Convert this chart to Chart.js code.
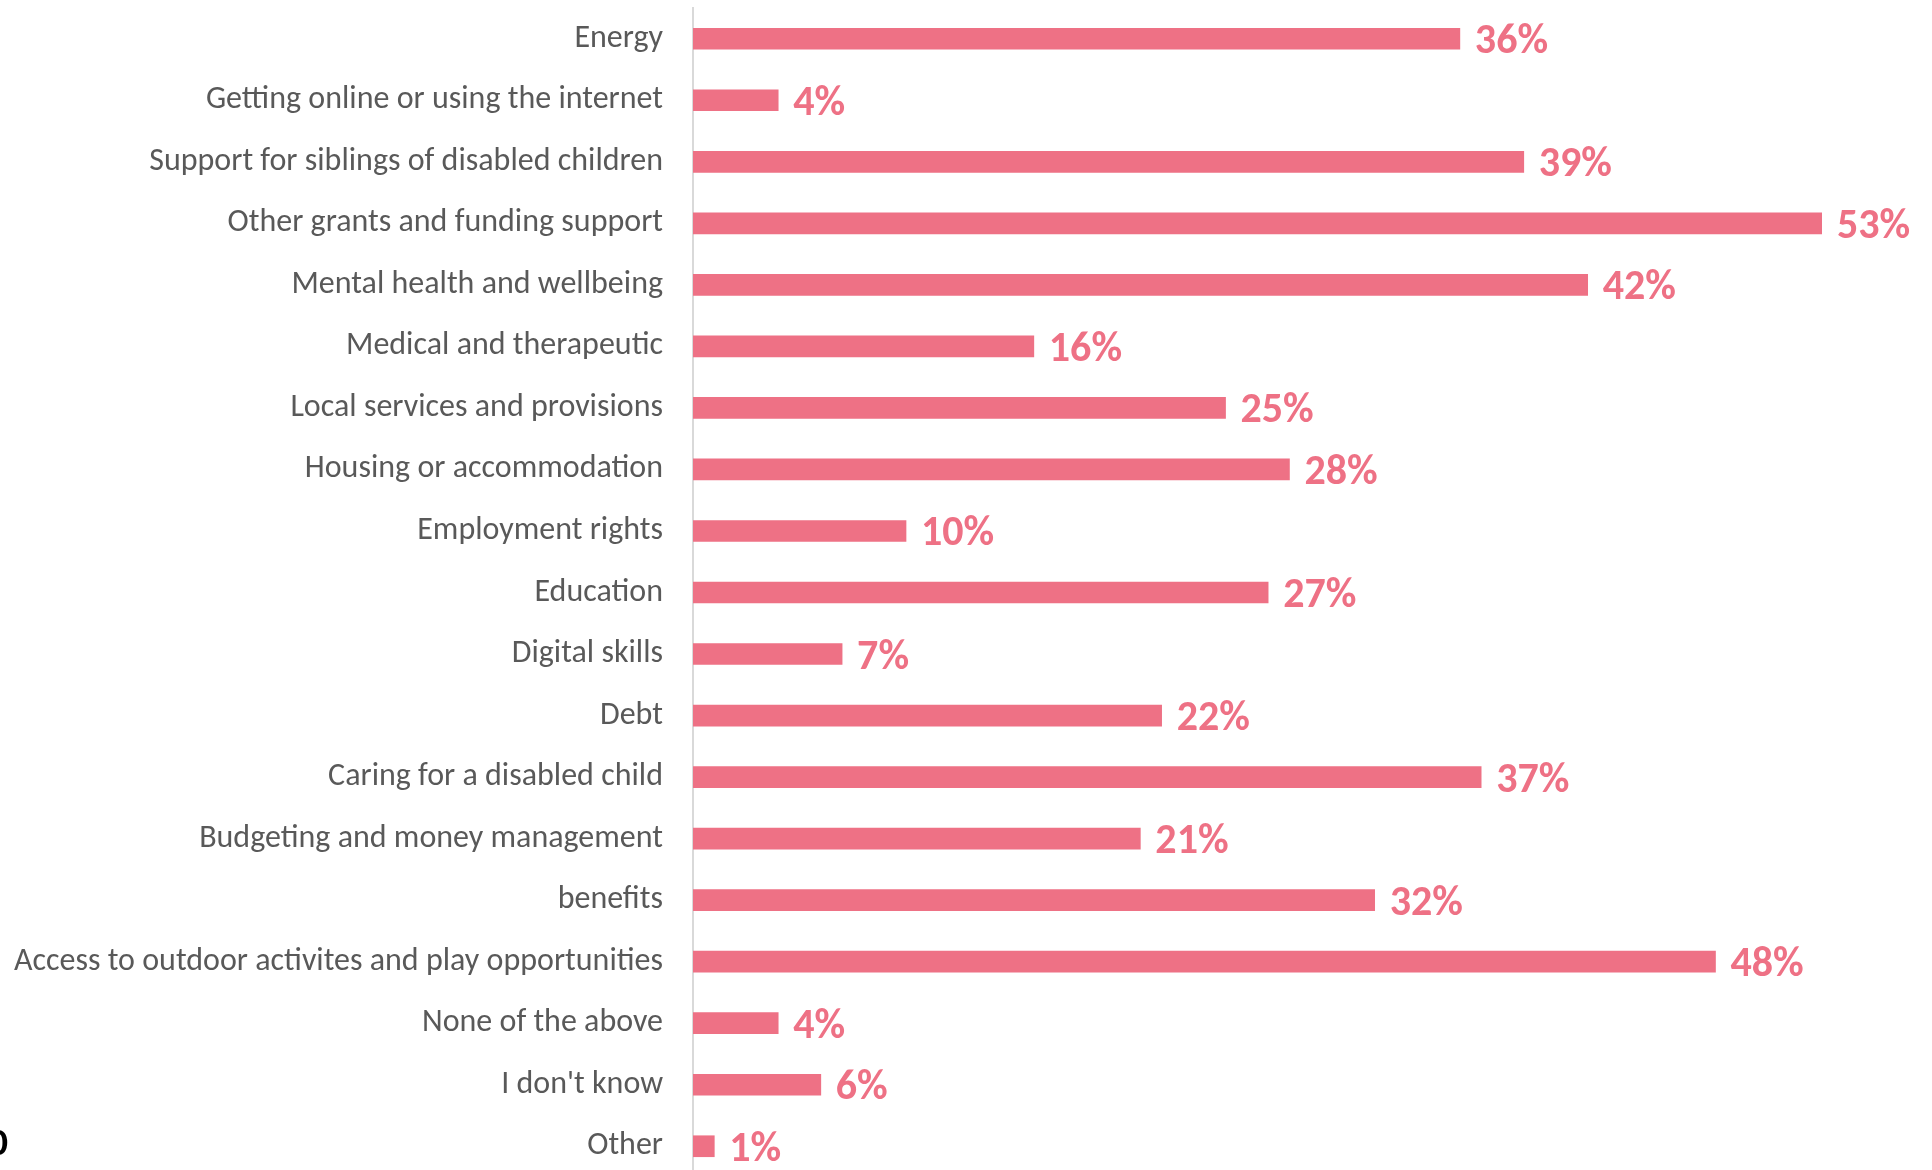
<!DOCTYPE html>
<html lang="en">
<head>
<meta charset="utf-8">
<title>Support needed</title>
<script src="https://cdn.jsdelivr.net/npm/chart.js@4/dist/chart.umd.min.js"></script>
<style>
  html, body { margin: 0; padding: 0; background: #fff; overflow: hidden; }
  #wrap { position: relative; width: 1932px; height: 1170px; overflow: hidden; }
  #supportChart { display: block; }
</style>
</head>
<body>
<div id="wrap">
  <canvas id="supportChart" width="1932" height="1178"></canvas>
</div>
<script>
/* ═══════════════════════════════════════════════
   Horizontal bar chart — areas where support is wanted (% of respondents)
═══════════════════════════════════════════════ */

'use strict';

/* ── Data ── */
const categories = [
  'Energy',
  'Getting online or using the internet',
  'Support for siblings of disabled children',
  'Other grants and funding support',
  'Mental health and wellbeing',
  'Medical and therapeutic',
  'Local services and provisions',
  'Housing or accommodation',
  'Employment rights',
  'Education',
  'Digital skills',
  'Debt',
  'Caring for a disabled child',
  'Budgeting and money management',
  'benefits',
  'Access to outdoor activites and play opportunities',
  'None of the above',
  "I don't know",
  'Other'
];

const percentages = [36, 4, 39, 53, 42, 16, 25, 28, 10, 27, 7, 22, 37, 21, 32, 48, 4, 6, 1];

/* ── Styles ── */
const BAR_COLOR   = 'rgb(238,113,133)';
const LABEL_COLOR = '#595959';
const AXIS_COLOR  = '#d9d9d9';
const FONT_FAMILY = "Carlito, Calibri, Lato, 'Noto Sans', sans-serif";

/* Value labels at the end of each bar, e.g. "36%" */
const valueLabels = {
  id: 'valueLabels',
  afterDatasetsDraw(chart) {
    const { ctx } = chart;
    const meta = chart.getDatasetMeta(0);
    ctx.save();
    ctx.font = `bold 42px ${FONT_FAMILY}`;
    ctx.fillStyle = BAR_COLOR;
    ctx.textAlign = 'left';
    ctx.textBaseline = 'middle';
    meta.data.forEach((bar, i) => {
      ctx.fillText(percentages[i] + '%', bar.x + 15, bar.y + 4);
    });
    ctx.restore();
  }
};

/* Clipped glyph at the lower left page edge */
const edgeGlyph = {
  id: 'edgeGlyph',
  afterDraw(chart) {
    const { ctx } = chart;
    ctx.save();
    ctx.font = `bold 39px ${FONT_FAMILY}`;
    ctx.fillStyle = '#000';
    ctx.textAlign = 'right';
    ctx.textBaseline = 'middle';
    ctx.fillText('0', 8, 1145);
    ctx.restore();
  }
};

new Chart(document.getElementById('supportChart'), {
  type: 'bar',
  data: {
    labels: categories,
    datasets: [{
      data:            percentages,
      backgroundColor: BAR_COLOR,
      borderWidth:     0,
      barThickness:    21
    }]
  },
  options: {
    indexAxis:  'y',
    responsive: false,
    animation:  false,
    layout: { padding: { top: 8, bottom: 1, left: 0, right: 110 } },
    plugins: {
      legend:  { display: false },
      tooltip: { enabled: false }
    },
    scales: {
      x: {
        display: false,
        min: 0,
        max: Math.max(...percentages)
      },
      y: {
        grid:   { display: false, drawTicks: false },
        border: { display: true, color: AXIS_COLOR, width: 2 },
        ticks: {
          color:   LABEL_COLOR,
          padding: 30,
          font:    { family: FONT_FAMILY, size: 32 }
        },
        /* fixed gutter for the labels, no extra top/bottom padding from them */
        afterFit(scale) {
          scale.width = 693;
          scale.paddingTop = 0;
          scale.paddingBottom = 0;
        }
      }
    }
  },
  plugins: [valueLabels, edgeGlyph]
});
</script>
</body>
</html>
